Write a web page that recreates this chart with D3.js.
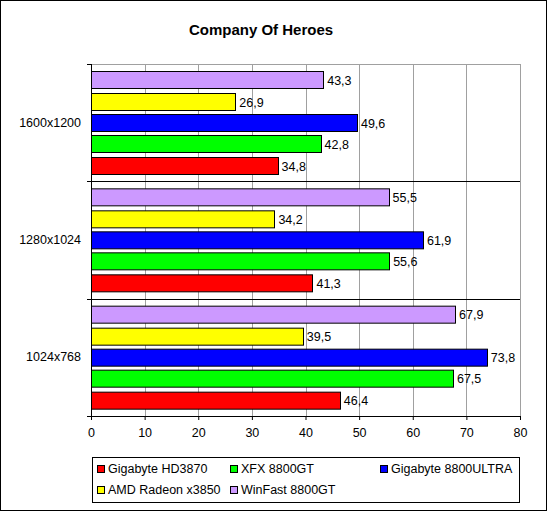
<!DOCTYPE html>
<html>
<head>
<meta charset="utf-8">
<script src="https://cdn.jsdelivr.net/npm/d3@7"></script>
<style>
  body { margin: 0; background: #fff; }
  svg text { font-family: "Liberation Sans", Arial, sans-serif; }
</style>
</head>
<body>
<div id="chart"></div>
<script>
// chart data
var categories = ["1600x1200", "1280x1024", "1024x768"];
var seriesNames = ["Gigabyte HD3870", "XFX 8800GT", "Gigabyte 8800ULTRA", "AMD Radeon x3850", "WinFast 8800GT"];
var seriesColors = ["#ff0000", "#00ff00", "#0000ff", "#ffff00", "#cc99ff"];
// values per series, in category order
var hd3870 = [34.8, 41.3, 46.4];
var xfx8800gt = [42.8, 55.6, 67.5];
var ultra8800 = [49.6, 61.9, 73.8];
var radeon3850 = [26.9, 34.2, 39.5];
var winfast8800gt = [43.3, 55.5, 67.9];
var xTicks = [0, 10, 20, 30, 40, 50, 60, 70, 80];

var seriesValues = [hd3870, xfx8800gt, ultra8800, radeon3850, winfast8800gt];

var width = 547, height = 511;
var margin = { top: 64, right: 27, bottom: 95, left: 91 };

var svg = d3.select("#chart").append("svg")
  .attr("width", width)
  .attr("height", height);

// outer frame
svg.append("rect")
  .attr("x", 0.5).attr("y", 0.5)
  .attr("width", width - 1).attr("height", height - 1)
  .attr("fill", "#fff").attr("stroke", "#000");

svg.append("text")
  .attr("x", 261).attr("y", 35)
  .attr("text-anchor", "middle")
  .style("font-size", "15px").style("font-weight", "bold")
  .text("Company Of Heroes");

var innerW = width - margin.left - margin.right;
var innerH = height - margin.top - margin.bottom;

var g = svg.append("g")
  .attr("transform", "translate(" + margin.left + "," + margin.top + ")");

var x = d3.scaleLinear().domain([0, 80]).range([0, innerW]);
var y = d3.scaleBand().domain(categories).range([0, innerH]);
// bars inside a band: top = last series
var yInner = d3.scaleBand()
  .domain(d3.range(seriesNames.length).reverse())
  .range([0, y.bandwidth()])
  .paddingInner(0.19)
  .paddingOuter(0.35);

// vertical grid
g.selectAll(".grid")
  .data(xTicks.slice(1))
  .enter().append("line")
  .attr("x1", function (d) { return Math.round(x(d)) + 0.5; })
  .attr("x2", function (d) { return Math.round(x(d)) + 0.5; })
  .attr("y1", 0).attr("y2", innerH)
  .attr("stroke", "#a0a0a0");

// top grid line
g.append("line")
  .attr("x1", 0).attr("x2", innerW)
  .attr("y1", 0.5).attr("y2", 0.5)
  .attr("stroke", "#a0a0a0");

// category separators
g.selectAll(".sep")
  .data(categories.slice(1))
  .enter().append("line")
  .attr("x1", -4).attr("x2", innerW)
  .attr("y1", function (d) { return Math.round(y(d)) + 0.5; })
  .attr("y2", function (d) { return Math.round(y(d)) + 0.5; })
  .attr("stroke", "#000");

// bars
categories.forEach(function (cat, ci) {
  var cg = g.append("g").attr("transform", "translate(0," + y(cat) + ")");
  seriesNames.forEach(function (name, si) {
    var v = seriesValues[si][ci];
    var by = Math.round(yInner(si));
    var bh = Math.round(yInner.bandwidth());
    cg.append("rect")
      .attr("x", 0.5)
      .attr("y", by + 0.5)
      .attr("width", Math.round(x(v)))
      .attr("height", bh)
      .attr("fill", seriesColors[si])
      .attr("stroke", "#000");
    cg.append("text")
      .attr("x", x(v) + 4)
      .attr("y", by + bh / 2 + 5)
      .style("font-size", "12.5px")
      .text(String(v).replace(".", ","));
  });
});

// axes
var xAxis = g.append("g")
  .attr("transform", "translate(0," + innerH + ")")
  .call(d3.axisBottom(x).tickValues(xTicks).tickSize(4).tickPadding(8));
xAxis.select(".domain").attr("stroke", "#000");
xAxis.selectAll("text").style("font-size", "12.5px").style("font-family", "Liberation Sans, Arial, sans-serif");

var yAxis = g.append("g")
  .call(d3.axisLeft(y).tickSize(0).tickPadding(10));
yAxis.select(".domain").remove();
yAxis.selectAll("text").style("font-size", "12.5px").style("font-family", "Liberation Sans, Arial, sans-serif");

g.append("line")
  .attr("x1", 0.5).attr("x2", 0.5)
  .attr("y1", 0).attr("y2", innerH)
  .attr("stroke", "#000");
// category boundary ticks on the left
g.selectAll(".ytick")
  .data([0, innerH])
  .enter().append("line")
  .attr("x1", -4).attr("x2", 0)
  .attr("y1", function (d) { return d + 0.5; })
  .attr("y2", function (d) { return d + 0.5; })
  .attr("stroke", "#000");

// legend
var legend = svg.append("g").attr("transform", "translate(92,457)");
legend.append("rect")
  .attr("x", 0.5).attr("y", 0.5)
  .attr("width", 427).attr("height", 45)
  .attr("fill", "#fff").attr("stroke", "#000");

var legendCols = [5, 138, 288];
seriesNames.forEach(function (name, i) {
  var col = i % 3, row = Math.floor(i / 3);
  var lx = legendCols[col], ly = 12 + row * 21;
  legend.append("rect")
    .attr("x", lx + 0.5).attr("y", ly - 4 + 0.5)
    .attr("width", 7).attr("height", 7)
    .attr("fill", seriesColors[i]).attr("stroke", "#000");
  legend.append("text")
    .attr("x", lx + 11).attr("y", ly + 4)
    .style("font-size", "12.5px")
    .text(name);
});
</script>
</body>
</html>
